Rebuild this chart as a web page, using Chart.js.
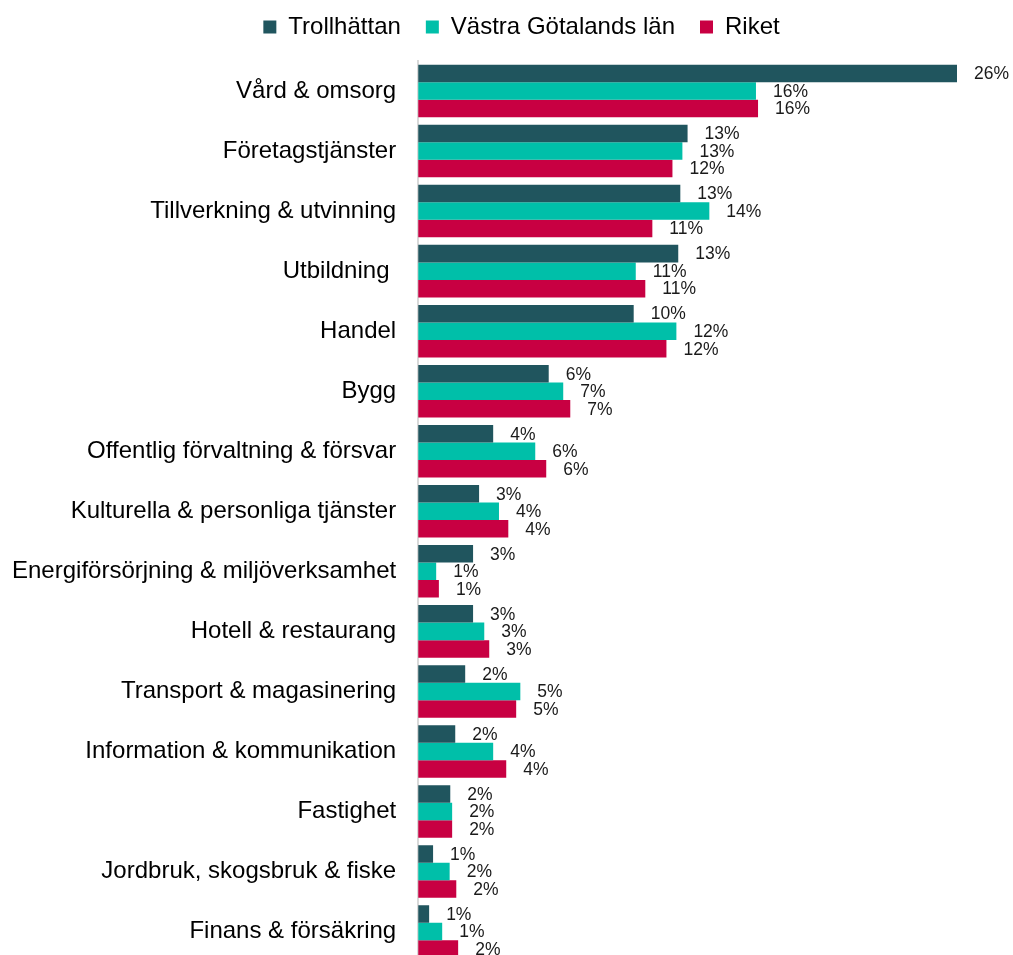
<!DOCTYPE html>
<html>
<head>
<meta charset="utf-8">
<script src="https://cdn.jsdelivr.net/npm/chart.js@4.4.0/dist/chart.umd.min.js"></script>
<style>
  html, body { margin: 0; padding: 0; background: #fff; overflow: hidden; }
  #wrap { width: 1013px; height: 998px; position: relative; }
</style>
</head>
<body>
<div id="wrap"><canvas id="bar-chart"></canvas></div>
<script>
// Branscher, andel av sysselsatta (%)
var categories = ["Vård & omsorg", "Företagstjänster", "Tillverkning & utvinning", "Utbildning ",
    "Handel", "Bygg", "Offentlig förvaltning & försvar", "Kulturella & personliga tjänster",
    "Energiförsörjning & miljöverksamhet", "Hotell & restaurang", "Transport & magasinering",
    "Information & kommunikation", "Fastighet", "Jordbruk, skogsbruk & fiske", "Finans & försäkring"];
var trollhattan = [26.0, 13.0, 12.65, 12.55, 10.4, 6.3, 3.62, 2.94, 2.65, 2.65, 2.27, 1.79, 1.55, 0.72, 0.53];
var vastraGotaland = [16.3, 12.75, 14.05, 10.5, 12.46, 7.0, 5.65, 3.9, 0.87, 3.19, 4.93, 3.62, 1.64, 1.52, 1.16];
var riket = [16.4, 12.27, 11.3, 10.96, 11.98, 7.34, 6.18, 4.35, 1.0, 3.43, 4.73, 4.25, 1.64, 1.84, 1.93];

var fontFamily = "'Liberation Sans', Arial, sans-serif";

// Procentetiketter till höger om staplarna
var valueLabels = {
    id: 'valueLabels',
    afterDatasetsDraw: function (chart) {
        var ctx = chart.ctx;
        ctx.save();
        ctx.font = "17.5px " + fontFamily;
        ctx.fillStyle = "#1a1a1a";
        ctx.textAlign = "left";
        ctx.textBaseline = "middle";
        chart.data.datasets.forEach(function (ds, i) {
            chart.getDatasetMeta(i).data.forEach(function (bar, j) {
                ctx.fillText(Math.round(ds.data[j]) + "%", bar.x + 17, bar.y + 1);
            });
        });
        ctx.restore();
    }
};

// legenden: lite extra luft under och flyttad åt höger
var legendTweak = {
    id: 'legendTweak',
    beforeInit: function (chart) {
        var legend = chart.legend;
        var fit = legend.fit;
        var draw = legend.draw;
        legend.fit = function () {
            fit.call(legend);
            legend.height += 14;
        };
        legend.draw = function () {
            chart.ctx.save();
            chart.ctx.translate(48, 2);
            draw.call(legend);
            chart.ctx.restore();
        };
    }
};

new Chart(document.getElementById("bar-chart"), {
    type: 'bar',
    data: {
        labels: categories,
        datasets: [{
            label: "Trollhättan",
            backgroundColor: "#20555E",
            data: trollhattan
        }, {
            label: "Västra Götalands län",
            backgroundColor: "#00BFA9",
            data: vastraGotaland
        }, {
            label: "Riket",
            backgroundColor: "#C80042",
            data: riket
        }]
    },
    options: {
        indexAxis: 'y',
        responsive: true,
        maintainAspectRatio: false,
        animation: false,
        categoryPercentage: 0.875,
        barPercentage: 1,
        layout: { padding: { top: -12, right: 56, bottom: 0, left: -10 } },
        plugins: {
            legend: {
                position: 'top',
                labels: {
                    font: { family: fontFamily, size: 24 },
                    color: "#000",
                    boxWidth: 13,
                    boxHeight: 13,
                    padding: 25
                }
            },
            tooltip: { enabled: false }
        },
        scales: {
            x: { display: false, min: 0, max: 26 },
            y: {
                grid: { display: false, drawTicks: false },
                border: { display: true, color: "#d9d9d9", width: 2 },
                ticks: {
                    font: { family: fontFamily, size: 24 },
                    color: "#000",
                    padding: 22
                }
            }
        }
    },
    plugins: [valueLabels, legendTweak]
});
</script>
</body>
</html>
